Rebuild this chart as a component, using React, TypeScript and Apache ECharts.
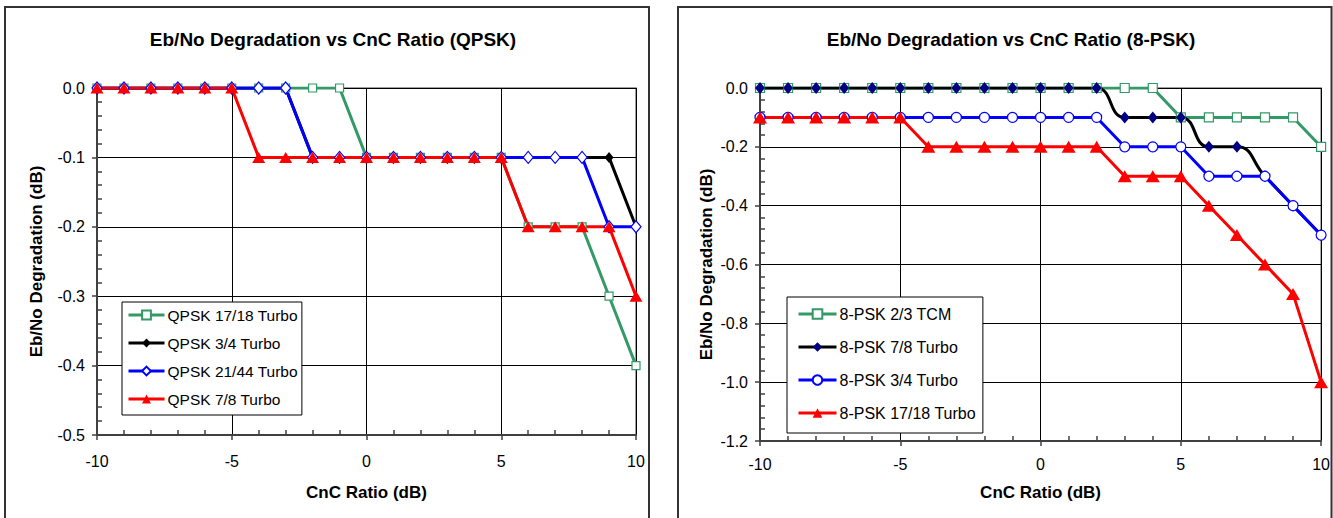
import React, { useEffect, useRef } from "react";
import * as echarts from "echarts";

const X = [-10, -9, -8, -7, -6, -5, -4, -3, -2, -1, 0, 1, 2, 3, 4, 5, 6, 7, 8, 9, 10];

// QPSK chart
const QPSK_NAMES = ["QPSK 17/18 Turbo", "QPSK 3/4 Turbo", "QPSK 21/44 Turbo", "QPSK 7/8 Turbo"];
const qpsk1718 = [0, 0, 0, 0, 0, 0, 0, 0, 0, 0, -0.1, -0.1, -0.1, -0.1, -0.1, -0.1, -0.2, -0.2, -0.2, -0.3, -0.4];
const qpsk34 = [0, 0, 0, 0, 0, 0, 0, 0, -0.1, -0.1, -0.1, -0.1, -0.1, -0.1, -0.1, -0.1, -0.1, -0.1, -0.1, -0.1, -0.2];
const qpsk2144 = [0, 0, 0, 0, 0, 0, 0, 0, -0.1, -0.1, -0.1, -0.1, -0.1, -0.1, -0.1, -0.1, -0.1, -0.1, -0.1, -0.2, -0.2];
const qpsk78 = [0, 0, 0, 0, 0, 0, -0.1, -0.1, -0.1, -0.1, -0.1, -0.1, -0.1, -0.1, -0.1, -0.1, -0.2, -0.2, -0.2, -0.2, -0.3];

// 8-PSK chart
const PSK8_NAMES = ["8-PSK 2/3 TCM", "8-PSK 7/8 Turbo", "8-PSK 3/4 Turbo", "8-PSK 17/18 Turbo"];
const psk8tcm23 = [0, 0, 0, 0, 0, 0, 0, 0, 0, 0, 0, 0, 0, 0, 0, -0.1, -0.1, -0.1, -0.1, -0.1, -0.2];
const psk8t78 = [0, 0, 0, 0, 0, 0, 0, 0, 0, 0, 0, 0, 0, -0.1, -0.1, -0.1, -0.2, -0.2, -0.3, -0.4, -0.5];
const psk8t34 = [-0.1, -0.1, -0.1, -0.1, -0.1, -0.1, -0.1, -0.1, -0.1, -0.1, -0.1, -0.1, -0.1, -0.2, -0.2, -0.2, -0.3, -0.3, -0.3, -0.4, -0.5];
const psk8t1718 = [-0.1, -0.1, -0.1, -0.1, -0.1, -0.1, -0.2, -0.2, -0.2, -0.2, -0.2, -0.2, -0.2, -0.3, -0.3, -0.3, -0.4, -0.5, -0.6, -0.7, -1.0];

const TITLES = ["Eb/No Degradation vs CnC Ratio (QPSK)", "Eb/No Degradation vs CnC Ratio (8-PSK)"];
const X_NAME = "CnC Ratio (dB)";
const Y_NAME = "Eb/No Degradation (dB)";

const GREEN = "#339966";
const BLACK = "#000000";
const NAVY = "#000080";
const BLUE = "#0000ff";
const RED = "#ff0000";
const FONT = "'Liberation Sans', Arial, Helvetica, sans-serif";

const pairs = (ys: number[]) => X.map((x, i) => [x, ys[i]]);

function lineSeries(name: string, data: number[], idx: number, opts: any) {
  return {
    type: "line",
    name,
    xAxisIndex: idx,
    yAxisIndex: idx,
    data: pairs(data),
    symbol: opts.symbol,
    symbolSize: opts.size,
    smooth: opts.smooth || false,
    showAllSymbol: true,
    color: opts.line,
    lineStyle: { color: opts.line, width: 3 },
    itemStyle: { color: opts.fill, borderColor: opts.border, borderWidth: opts.bw },
    emphasis: { disabled: true },
  };
}

function xAxis(idx: number, margin: number, gap: number) {
  return {
    type: "value",
    gridIndex: idx,
    min: -10,
    max: 10,
    interval: 5,
    name: X_NAME,
    nameLocation: "middle",
    nameGap: gap,
    nameTextStyle: { fontFamily: FONT, fontSize: 17, fontWeight: "bold", color: "#000" },
    axisLine: { show: true, onZero: false, lineStyle: { color: "#404040", width: 2 } },
    axisTick: { show: true, inside: false, length: 5, lineStyle: { color: "#404040", width: 1.5 } },
    minorTick: { show: true, splitNumber: 5, length: -5, lineStyle: { color: "#404040", width: 1.5 } },
    axisLabel: { fontFamily: FONT, fontSize: 16, color: "#000", margin },
    splitLine: { show: true, lineStyle: { color: "#000", width: 1 } },
  };
}

function yAxis(idx: number, min: number, interval: number, gap: number) {
  return {
    type: "value",
    gridIndex: idx,
    min,
    max: 0,
    interval,
    name: Y_NAME,
    nameLocation: "middle",
    nameGap: gap,
    nameTextStyle: { fontFamily: FONT, fontSize: 17, fontWeight: "bold", color: "#000" },
    axisLine: { show: true, onZero: false, lineStyle: { color: "#404040", width: 2 } },
    axisTick: { show: true, inside: false, length: 5, lineStyle: { color: "#404040", width: 1.5 } },
    minorTick: { show: true, splitNumber: 5, length: -5, lineStyle: { color: "#404040", width: 1.5 } },
    axisLabel: {
      fontFamily: FONT,
      fontSize: 16,
      color: "#000",
      margin: 12,
      formatter: (v: number) => (Math.abs(v) < 1e-9 ? "0.0" : v.toFixed(1)),
    },
    splitLine: { show: true, lineStyle: { color: "#000", width: 1 } },
  };
}

export default function App() {
  const ref = useRef<HTMLDivElement>(null);

  useEffect(() => {
    if (!ref.current) return;
    const chart = echarts.init(ref.current, undefined, { renderer: "svg" });
    const option: any = {
      animation: false,
      backgroundColor: "#ffffff",
      textStyle: { fontFamily: FONT },
      title: [
        {
          text: TITLES[0],
          left: 328,
          top: 25,
          textAlign: "center",
          textStyle: { fontFamily: FONT, fontSize: 19, fontWeight: "bold", color: "#000" },
        },
        {
          text: TITLES[1],
          left: 1006,
          top: 25,
          textAlign: "center",
          textStyle: { fontFamily: FONT, fontSize: 19, fontWeight: "bold", color: "#000" },
        },
      ],
      grid: [
        { left: 97, top: 88, width: 539, height: 347, show: true, borderColor: "#808080", borderWidth: 1.5, backgroundColor: "transparent" },
        { left: 760, top: 88, width: 562, height: 353, show: true, borderColor: "#808080", borderWidth: 1.5, backgroundColor: "transparent" },
      ],
      xAxis: [xAxis(0, 18, 49), xAxis(1, 15, 43)],
      yAxis: [yAxis(0, -0.5, 0.1, 52), yAxis(1, -1.2, 0.2, 45)],
      legend: [
        {
          data: QPSK_NAMES,
          orient: "vertical",
          left: 122,
          top: 302,
          padding: [5, 4, 8, 5],
          itemWidth: 36,
          itemHeight: 11,
          itemGap: 12,
          backgroundColor: "#ffffff",
          borderColor: "#000",
          borderWidth: 1,
          borderRadius: 0,
          selectedMode: false,
          lineStyle: { width: 3 },
          textStyle: { fontFamily: FONT, fontSize: 15.5, color: "#000", lineHeight: 14, padding: [0, 0, 0, -2] },
        },
        {
          data: PSK8_NAMES,
          orient: "vertical",
          left: 787,
          top: 297,
          padding: [9, 7, 12, 10],
          itemWidth: 38,
          itemHeight: 12,
          itemGap: 17,
          backgroundColor: "#ffffff",
          borderColor: "#000",
          borderWidth: 1,
          borderRadius: 0,
          selectedMode: false,
          lineStyle: { width: 3 },
          textStyle: { fontFamily: FONT, fontSize: 16, color: "#000", lineHeight: 14, padding: [0, 0, 0, -2] },
        },
      ],
      series: [
        lineSeries(QPSK_NAMES[0], qpsk1718, 0, { symbol: "rect", size: 8, line: GREEN, fill: "#ffffff", border: GREEN, bw: 1.2 }),
        lineSeries(QPSK_NAMES[1], qpsk34, 0, { symbol: "diamond", size: [9, 11], line: BLACK, fill: BLACK, border: BLACK, bw: 0 }),
        lineSeries(QPSK_NAMES[2], qpsk2144, 0, { symbol: "diamond", size: [10, 12], line: BLUE, fill: "#ffffff", border: BLUE, bw: 1.2 }),
        lineSeries(QPSK_NAMES[3], qpsk78, 0, { symbol: "triangle", size: [13, 11], line: RED, fill: RED, border: RED, bw: 0 }),
        lineSeries(PSK8_NAMES[0], psk8tcm23, 1, { symbol: "rect", size: 9, line: GREEN, fill: "#ffffff", border: GREEN, bw: 1.2 }),
        lineSeries(PSK8_NAMES[1], psk8t78, 1, { symbol: "diamond", size: [10, 12], line: BLACK, fill: NAVY, border: NAVY, bw: 0, smooth: 0.5 }),
        lineSeries(PSK8_NAMES[2], psk8t34, 1, { symbol: "circle", size: 10, line: BLUE, fill: "#ffffff", border: BLUE, bw: 1.2 }),
        lineSeries(PSK8_NAMES[3], psk8t1718, 1, { symbol: "triangle", size: [14, 12], line: RED, fill: RED, border: RED, bw: 0 }),
      ],
      graphic: [
        {
          type: "rect",
          shape: { x: 5, y: 7, width: 644, height: 700 },
          style: { fill: "none", stroke: "#333333", lineWidth: 2 },
          silent: true,
          z: 100,
        },
        {
          type: "rect",
          shape: { x: 678, y: 7, width: 653.5, height: 700 },
          style: { fill: "none", stroke: "#333333", lineWidth: 2 },
          silent: true,
          z: 100,
        },
      ],
    };
    chart.setOption(option);
    return () => chart.dispose();
  }, []);

  return (
    <div
      ref={ref}
      style={{ position: "fixed", left: 0, top: 0, width: 1333, height: 518, background: "#fff" }}
    />
  );
}
